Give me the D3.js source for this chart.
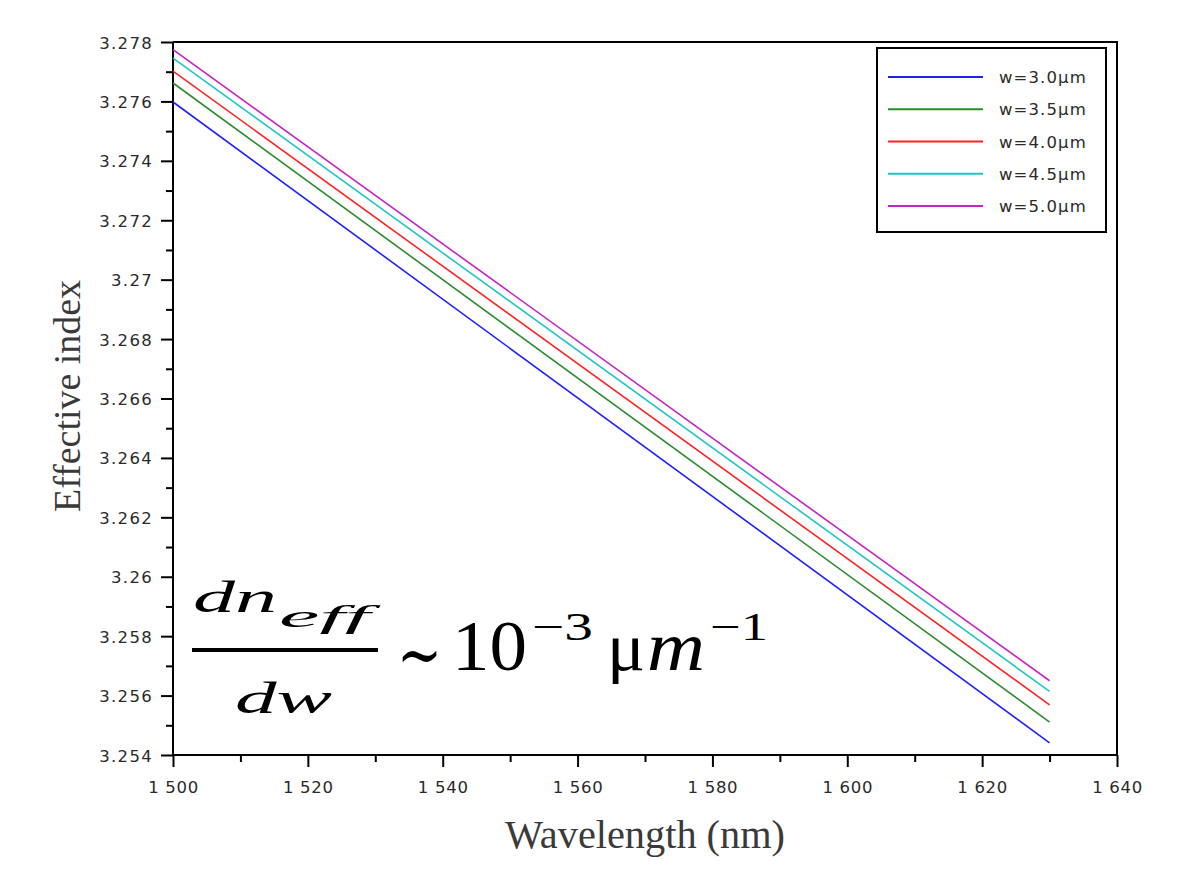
<!DOCTYPE html>
<html>
<head>
<meta charset="utf-8">
<script src="https://cdn.jsdelivr.net/npm/d3@7"></script>
<style>
html,body{margin:0;padding:0;background:#fff;}
svg{display:block;}
</style>
</head>
<body>
<svg id="chart" width="1191" height="873"></svg>
<script>
// ---- data ----
const wavelengths = [1500, 1630];
const seriesNames = ["w=3.0\u03bcm", "w=3.5\u03bcm", "w=4.0\u03bcm", "w=4.5\u03bcm", "w=5.0\u03bcm"];
const w30 = [3.27598, 3.25441];
const w35 = [3.27662, 3.25511];
const w40 = [3.27702, 3.25569];
const w45 = [3.27746, 3.25614];
const w50 = [3.27774, 3.25650];
const seriesValues = [w30, w35, w40, w45, w50];
const seriesColors = ["#1f1fff", "#2a8c2a", "#ff2222", "#22c4c4", "#c424c4"];
const xTicks = [1500, 1520, 1540, 1560, 1580, 1600, 1620, 1640];
const xTickLabels = ["1 500", "1 520", "1 540", "1 560", "1 580", "1 600", "1 620", "1 640"];
const xMinor = [1510, 1530, 1550, 1570, 1590, 1610, 1630];
const yTicks = [3.254, 3.256, 3.258, 3.26, 3.262, 3.264, 3.266, 3.268, 3.27, 3.272, 3.274, 3.276, 3.278];
const yTickLabels = ["3.254", "3.256", "3.258", "3.26", "3.262", "3.264", "3.266", "3.268", "3.27", "3.272", "3.274", "3.276", "3.278"];
const yMinor = [3.255, 3.257, 3.259, 3.261, 3.263, 3.265, 3.267, 3.269, 3.271, 3.273, 3.275, 3.277];

// ---- layout ----
const L = 173, R = 1117, T = 42, B = 755;
const svg = d3.select("#chart");
const x = d3.scaleLinear().domain([1500, 1640]).range([L, R]);
const y = d3.scaleLinear().domain([3.254, 3.278]).range([B, T]);

const tickFont = "DejaVu Sans, Arial, sans-serif";

// frame (top & right)
svg.append("path")
  .attr("d", `M${L},${T}H${R}V${B}`)
  .attr("fill", "none").attr("stroke", "#000").attr("stroke-width", 2);

// minor ticks
const xMinAxis = svg.append("g").attr("transform", `translate(0,${B})`)
  .call(d3.axisBottom(x).tickValues(xMinor).tickSize(7).tickFormat(""));
const yMinAxis = svg.append("g").attr("transform", `translate(${L},0)`)
  .call(d3.axisLeft(y).tickValues(yMinor).tickSize(7).tickFormat(""));

// major axes
const xAxis = svg.append("g").attr("transform", `translate(0,${B})`)
  .call(d3.axisBottom(x).tickValues(xTicks).tickSize(12).tickPadding(14)
    .tickFormat((d, i) => xTickLabels[i]));
const yAxis = svg.append("g").attr("transform", `translate(${L},0)`)
  .call(d3.axisLeft(y).tickValues(yTicks).tickSize(12).tickPadding(8)
    .tickFormat((d, i) => yTickLabels[i]));

[xMinAxis, yMinAxis, xAxis, yAxis].forEach(g => {
  g.select(".domain").attr("stroke", "#000").attr("stroke-width", 2);
  g.selectAll(".tick line").attr("stroke", "#000").attr("stroke-width", 2);
});
xMinAxis.select(".domain").remove();
yMinAxis.select(".domain").remove();
xAxis.select(".domain").attr("d", `M${L},0H${R}`);
yAxis.select(".domain").attr("d", `M0,${B}V${T}`);

xAxis.selectAll(".tick text")
  .attr("font-family", tickFont).attr("font-size", 16.5).attr("fill", "#2a2a2a")
  .attr("letter-spacing", "0.7px").attr("dy", 0).attr("y", 38)
  .attr("text-anchor", "middle");
yAxis.selectAll(".tick text")
  .attr("font-family", tickFont).attr("font-size", 16.5).attr("fill", "#2a2a2a")
  .attr("letter-spacing", "1.3px").attr("dy", 0).attr("y", 6).attr("x", -20);

// lines
const line = d3.line().x((d, i) => x(wavelengths[i])).y(d => y(d));
svg.append("g").selectAll("path").data(seriesValues).join("path")
  .attr("d", d => line(d))
  .attr("fill", "none")
  .attr("stroke", (d, i) => seriesColors[i])
  .attr("stroke-width", 1.6);

// legend
const lg = svg.append("g");
lg.append("rect").attr("x", 877).attr("y", 48).attr("width", 229).attr("height", 184)
  .attr("fill", "#fff").attr("stroke", "#000").attr("stroke-width", 2);
const rowY = d3.scalePoint().domain(d3.range(seriesNames.length)).range([77, 206]);
seriesNames.forEach((name, i) => {
  lg.append("line").attr("x1", 888).attr("x2", 983).attr("y1", rowY(i)).attr("y2", rowY(i))
    .attr("stroke", seriesColors[i]).attr("stroke-width", 1.8);
  lg.append("text").attr("x", 999).attr("y", rowY(i) + 6)
    .attr("font-family", tickFont).attr("font-size", 16.5).attr("fill", "#2a2a2a")
    .attr("letter-spacing", "1.1px").text(name);
});

// axis titles
const serif = "Liberation Serif, Times New Roman, serif";
svg.append("text").attr("x", 645).attr("y", 848).attr("text-anchor", "middle")
  .attr("font-family", serif).attr("font-size", 39).attr("fill", "#3a3a3a")
  .attr("textLength", 280).attr("lengthAdjust", "spacingAndGlyphs")
  .text("Wavelength (nm)");
svg.append("text").attr("transform", "translate(80,396) rotate(-90)").attr("text-anchor", "middle")
  .attr("font-family", serif).attr("font-size", 38).attr("fill", "#3a3a3a")
  .attr("textLength", 232).attr("lengthAdjust", "spacingAndGlyphs")
  .text("Effective index");

// annotation formula
const ann = svg.append("g").attr("font-family", serif).attr("fill", "#000");
function t(txt, xx, yy, size, len, italic) {
  const e = ann.append("text").attr("x", xx).attr("y", yy).attr("font-size", size)
    .attr("textLength", len).attr("lengthAdjust", "spacingAndGlyphs").text(txt);
  if (italic) e.attr("font-style", "italic");
  return e;
}
t("dn", 193, 612, 44, 84, true);
t("eff", 279, 627, 32, 91, true);
ann.append("rect").attr("x", 192).attr("y", 648).attr("width", 186).attr("height", 4);
t("dw", 235, 713, 44, 97, true);
ann.append("text").attr("x", 397).attr("y", 679).attr("font-size", 72)
  .attr("font-family", "DejaVu Serif, serif")
  .attr("textLength", 45).attr("lengthAdjust", "spacingAndGlyphs").text("\u223c");
t("10", 452, 670, 72, 75, false);
t("\u22123", 532, 640, 40, 61, false);
t("\u03bc", 607, 670, 68, 38, false);
t("m", 647, 670, 70, 58, true);
t("\u22121", 710, 640, 40, 58, false);
</script>
</body>
</html>
